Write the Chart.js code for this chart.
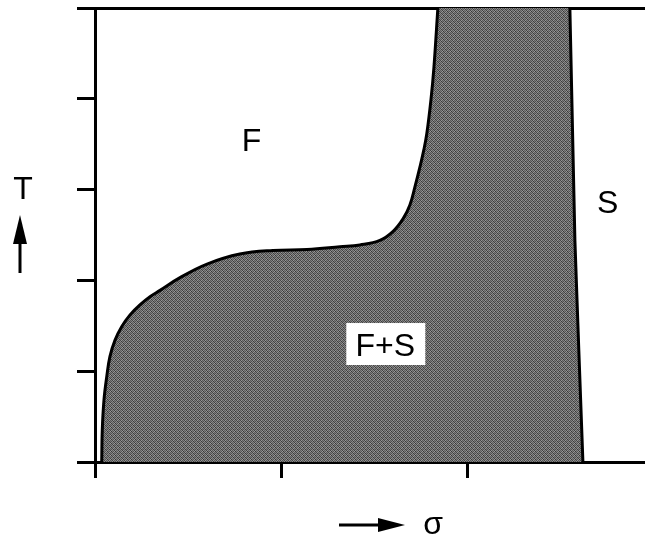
<!DOCTYPE html>
<html>
<head>
<meta charset="utf-8">
<script src="https://cdn.jsdelivr.net/npm/chart.js@4.4.0/dist/chart.umd.min.js"></script>
<style>
    html, body { margin: 0; padding: 0; background: #fff; }
    #wrap { width: 645px; height: 535px; }
</style>
</head>
<body>
<div id="wrap"><canvas id="diagrama" width="645" height="535"></canvas></div>
<script>
// 1. Datos del diagrama (sigma en x, T en y)
// Frontera F / F+S, de abajo hacia arriba
const fronteraFSigma = [0.036, 0.039, 0.048, 0.063, 0.080, 0.107, 0.143, 0.188, 0.241, 0.295, 0.349, 0.456, 0.601, 0.777, 0.954, 1.137, 1.314, 1.421, 1.528, 1.599, 1.653, 1.689, 1.716, 1.743, 1.764, 1.780, 1.802, 1.818, 1.839];
const fronteraFT     = [0.00,  0.35,  0.68,  0.94,  1.16,  1.34,  1.49,  1.62,  1.73,  1.82,  1.89,  2.03,  2.18,  2.29,  2.33,  2.34,  2.37,  2.39,  2.44,  2.54,  2.68,  2.83,  3.03,  3.25,  3.44,  3.62,  3.99,  4.35,  5.00];
// Frontera F+S / S, de arriba hacia abajo
const fronteraSSigma = [2.547, 2.574, 2.595, 2.617];
const fronteraST     = [5.00,  2.44,  1.23,  0.00];
// Marcas de los ejes
const ticksSigma = [0, 1, 2];
const ticksT = [0, 1, 2, 3, 4, 5];
const regiones = ["F", "F+S", "S"];

const puntos = (xs, ys) => xs.map((v, i) => ({ x: v, y: ys[i] }));
const curvaF = puntos(fronteraFSigma, fronteraFT);
const curvaS = puntos(fronteraSSigma, fronteraST);

// 2. Trama gris para la zona de coexistencia
function tramaGris() {
    const c = document.createElement("canvas");
    c.width = 4;
    c.height = 4;
    const g = c.getContext("2d");
    const niveles = [
        [70, 150, 90, 130],
        [140, 60, 120, 80],
        [95, 135, 65, 145],
        [125, 85, 155, 55],
    ];
    niveles.forEach((fila, j) => fila.forEach((v, i) => {
        g.fillStyle = `rgb(${v},${v},${v})`;
        g.fillRect(i, j, 1, 1);
    }));
    return g.createPattern(c, "repeat");
}

// 3. Rótulos de las regiones y flechas de los ejes
const rotulos = {
    id: "rotulos",
    afterDatasetsDraw(chart) {
        const { ctx, scales: { x, y } } = chart;
        ctx.save();
        ctx.font = "32px 'Liberation Sans', Arial, sans-serif";
        ctx.textAlign = "center";
        ctx.textBaseline = "alphabetic";
        ctx.fillStyle = "#000";

        ctx.fillText(regiones[0], x.getPixelForValue(0.84), y.getPixelForValue(3.425));
        ctx.fillText(regiones[2], x.getPixelForValue(2.75), y.getPixelForValue(2.74));

        // caja blanca detrás de F+S
        const cx = x.getPixelForValue(1.557);
        const cy = y.getPixelForValue(1.167);
        ctx.fillStyle = "#fff";
        ctx.fillRect(cx - 39, cy - 33, 79, 42);
        ctx.fillStyle = "#000";
        ctx.fillText(regiones[1], cx, cy);
        ctx.restore();
    },
    afterDraw(chart) {
        const { ctx, chartArea } = chart;
        ctx.save();
        ctx.fillStyle = "#000";
        ctx.strokeStyle = "#000";
        ctx.font = "32px 'Liberation Sans', Arial, sans-serif";
        ctx.textAlign = "center";

        // eje vertical: T con flecha hacia arriba
        const ax = chartArea.left - 75;
        ctx.fillText("T", ax + 3, 199);
        ctx.lineWidth = 3;
        ctx.beginPath();
        ctx.moveTo(ax, 273);
        ctx.lineTo(ax, 240);
        ctx.stroke();
        ctx.beginPath();
        ctx.moveTo(ax, 215);
        ctx.lineTo(ax - 7, 244);
        ctx.lineTo(ax + 7, 244);
        ctx.closePath();
        ctx.fill();

        // eje horizontal: flecha hacia la derecha y sigma
        const ay = chartArea.bottom + 63;
        ctx.beginPath();
        ctx.moveTo(339, ay);
        ctx.lineTo(382, ay);
        ctx.stroke();
        ctx.beginPath();
        ctx.moveTo(405, ay);
        ctx.lineTo(378, ay - 7);
        ctx.lineTo(378, ay + 7);
        ctx.closePath();
        ctx.fill();
        ctx.fillText("σ", 433, 534);
        ctx.restore();
    },
};

// 4. Configuración de la gráfica
const ctxDiagrama = document.getElementById("diagrama").getContext("2d");
new Chart(ctxDiagrama, {
    type: "scatter",
    data: {
        datasets: [
            {
                data: curvaF,
                showLine: true,
                borderColor: "#000",
                borderWidth: 3,
                pointRadius: 0,
                tension: 0.4,
                fill: false,
            },
            {
                data: curvaS,
                showLine: true,
                borderColor: "#000",
                borderWidth: 3,
                pointRadius: 0,
                tension: 0,
                fill: false,
            },
            {
                // zona F+S: contorno cerrado entre ambas fronteras
                data: curvaF.concat(curvaS, [curvaF[0]]),
                showLine: true,
                borderWidth: 0,
                borderColor: "rgba(0,0,0,0)",
                backgroundColor: tramaGris(),
                pointRadius: 0,
                tension: 0,
                fill: "shape",
            },
        ],
    },
    plugins: [rotulos],
    options: {
        responsive: false,
        animation: false,
        layout: { padding: 0 },
        plugins: {
            legend: { display: false },
            tooltip: { enabled: false },
        },
        scales: {
            x: {
                type: "linear",
                min: 0,
                max: 2.95,
                afterBuildTicks: (s) => { s.ticks = ticksSigma.map((v) => ({ value: v })); },
                afterFit: (s) => { s.height = 73; },
                ticks: { display: false },
                grid: { drawOnChartArea: false, tickLength: 16, lineWidth: 3, color: "#000" },
                border: { display: true, color: "#000", width: 3 },
            },
            x2: {
                type: "linear",
                position: "top",
                min: 0,
                max: 2.95,
                afterFit: (s) => { s.height = 8; },
                ticks: { display: false },
                grid: { display: false },
                border: { display: true, color: "#000", width: 3 },
            },
            y: {
                type: "linear",
                min: 0,
                max: 5,
                afterBuildTicks: (s) => { s.ticks = ticksT.map((v) => ({ value: v })); },
                afterFit: (s) => { s.width = 95; },
                ticks: { display: false },
                grid: { drawOnChartArea: false, tickLength: 18, lineWidth: 3, color: "#000" },
                border: { display: true, color: "#000", width: 3 },
            },
        },
    },
});
</script>
</body>
</html>
